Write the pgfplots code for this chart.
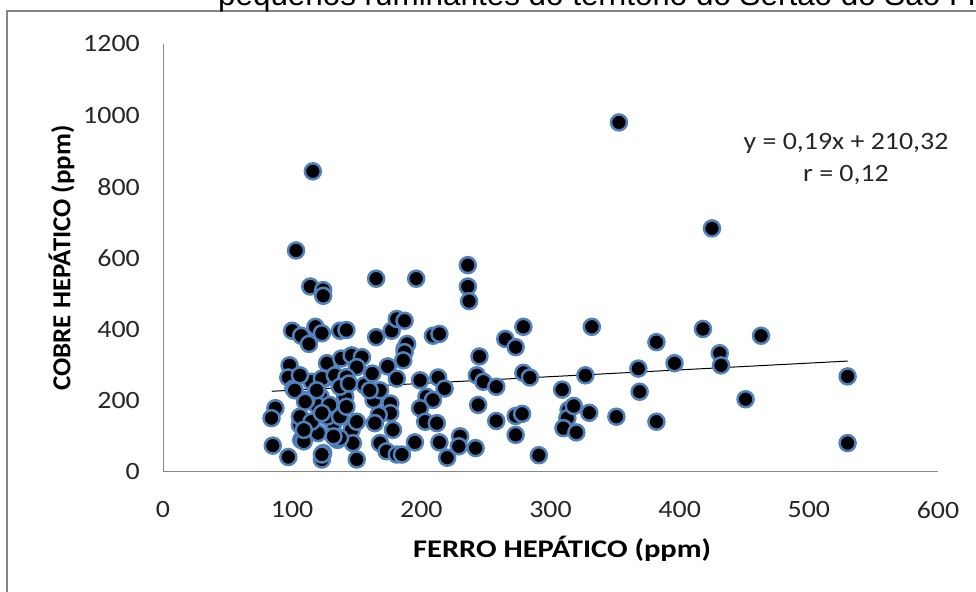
\documentclass[border=0pt]{standalone}
\usepackage{pgfplots}
\pgfplotsset{compat=1.18}
\usepackage{pgfplotstable}
\usepackage{fontspec}
\setmainfont{Carlito}[FakeStretch=1.12]
\newfontfamily\labfont{Carlito}[FakeStretch=1.2]
\newfontfamily\ylabfont{Carlito}[FakeStretch=1.04]
\newfontfamily\titlefont{Liberation Sans}
\definecolor{mkedge}{RGB}{79,129,189}
\definecolor{axgray}{RGB}{134,134,134}
\definecolor{txt}{RGB}{38,38,38}

\pgfplotstableread{
x y
353 980
425 683
116 843
103 621
114 520
124 510
124 494
165 542
196 542
236 580
236 520
237 479
100 396
107 382
113 359
118 407
123 389
137 396
142 398
165 378
177 396
181 429
187 424
187 345
174 296
181 262
98 299
97 265
101 234
87 179
84 151
85 74
97 42
115 253
127 305
138 318
146 327
154 322
150 294
125 262
141 211
122 211
119 188
111 202
156 243
163 202
176 192
176 165
167 160
106 132
120 109
132 137
146 118
150 141
107 90
135 90
147 81
124 53
123 35
150 35
168 81
173 58
181 49
178 118
164 137
209 382
214 387
189 359
187 336
186 313
265 373
273 350
279 407
245 324
243 271
248 253
258 239
279 278
284 265
309 231
314 174
313 151
310 123
199 257
213 265
218 234
204 211
209 202
199 179
203 141
212 137
195 83
185 49
214 83
220 40
230 100
229 72
242 67
244 188
258 143
273 157
278 163
273 104
291 47
332 407
382 364
418 401
463 382
431 333
432 299
396 305
368 290
327 271
369 225
451 204
530 268
530 81
318 185
320 111
330 166
351 155
382 141
106 271
123 262
133 271
142 266
102 229
110 197
137 95
109 86
123 49
137 239
144 248
119 229
106 155
115 141
127 155
137 155
142 183
132 100
109 118
129 188
123 165
162 276
168 229
160 229
}\datatable

\begin{document}
\begin{tikzpicture}[x=1bp,y=1bp]
\useasboundingbox (0,0) rectangle (976,592);
\draw[axgray, line width=1.5bp] (7,-20) -- (7,581) -- (1000,581);
\node[anchor=base west, inner sep=0, font=\titlefont\fontsize{31.5}{34}\selectfont] at (218,586) {pequenos ruminantes do território do Sertão do São Francisco};
\begin{axis}[
  at={(163bp,120bp)}, anchor=south west,
  scale only axis, width=775bp, height=428bp,
  xmin=0, xmax=600, ymin=0, ymax=1200,
  axis lines=left,
  axis line style={-, axgray, line width=1bp},
  xtick={0,100,...,600}, ytick={0,200,...,1200},
  major tick length=0pt,
  tick style={draw=none},
  /pgf/number format/assume math mode=true,
  scaled ticks=false,
  /pgf/number format/1000 sep={},
  xticklabel style={anchor=north, inner sep=0pt, yshift=-29bp, font=\fontsize{25}{25}\selectfont, text=txt},
  yticklabel style={anchor=east, inner sep=0pt, xshift=-23bp, font=\fontsize{25}{25}\selectfont, text=txt},
  xlabel={\textbf{FERRO HEPÁTICO (ppm)}},
  ylabel={\textbf{COBRE HEPÁTICO (ppm)}},
  xlabel style={at={(axis description cs:0.515,-0.18)}, anchor=center, inner sep=0pt, font=\labfont\fontsize{25.5}{25.5}\selectfont},
  ylabel style={at={(axis description cs:-0.131,0.5)}, anchor=center, inner sep=0pt, font=\ylabfont\fontsize{26}{26}\selectfont},
  clip=false,
]
\addplot[only marks, mark=*, mark size=8bp, mark options={fill=black, draw=mkedge, line width=2.5bp}] table[x=x,y=y] {\datatable};
\addplot[black, line width=1bp, no marks] coordinates {(84.2,226.3) (530.1,311.0)};
\node[align=center, inner sep=0pt, font=\fontsize{25}{32}\selectfont, text=txt] at (axis cs:528.8,877.5) {y = 0,19x + 210,32\\r = 0,12};
\end{axis}
\end{tikzpicture}
\end{document}
